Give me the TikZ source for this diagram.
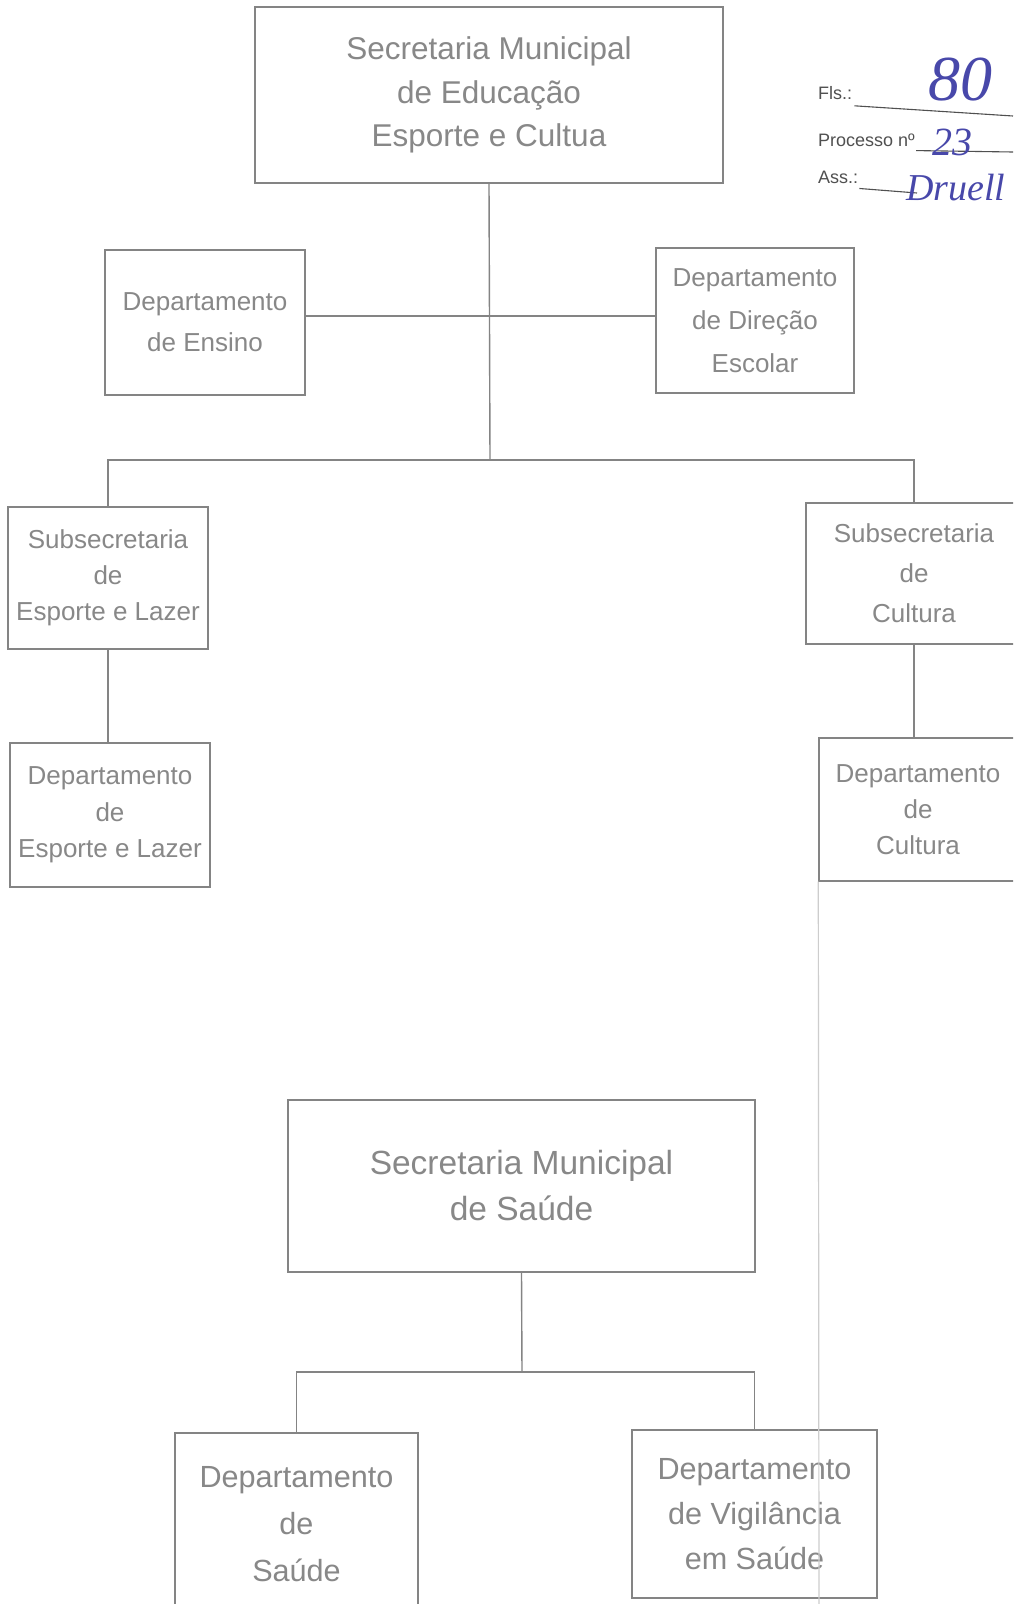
\documentclass[tikz,border=0pt]{standalone}
\usepackage{fontspec}
\usetikzlibrary{calc}
\setmainfont{Liberation Sans}
\newfontfamily\handfont{Liberation Serif}
\definecolor{lin}{RGB}{132,132,132}
\definecolor{txt}{RGB}{136,136,136}
\definecolor{ink}{RGB}{72,72,170}
\definecolor{stampc}{RGB}{80,80,80}
\definecolor{scanline}{RGB}{205,205,205}
\begin{document}
\begin{tikzpicture}[x=1pt,y=-1pt,
  orgbox/.style={draw=lin,line width=1.4pt,rectangle,inner sep=0pt,align=center,text=txt},
  conn/.style={draw=lin,line width=1.4pt},
  stamptext/.style={anchor=west,inner sep=0pt,text=stampc,font=\fontsize{18}{22}\selectfont},
  handtext/.style={anchor=west,inner sep=0pt,text=ink,font=\handfont\itshape},
  stampline/.style={draw=stampc,line width=1.1pt},
  scanmark/.style={draw=scanline,line width=1.2pt}]
\useasboundingbox (0,0) rectangle (1013,1604);
\clip (0,0) rectangle (1013,1604);
\fill[white] (0,0) rectangle (1013,1604);

% --- Educacao ---
\node[orgbox,minimum width=468,minimum height=176,font=\fontsize{31.5}{43.5}\selectfont] (sec) at (489,95) {Secretaria Municipal\\de Educação\\Esporte e Cultua};
\node[orgbox,minimum width=200,minimum height=145,font=\fontsize{26}{41}\selectfont] (ensino) at (205,322.5) {Departamento\\de Ensino};
\node[orgbox,minimum width=198,minimum height=145,font=\fontsize{26}{43}\selectfont] (direcao) at (755,320.5) {Departamento\\de Direção\\Escolar};
\node[orgbox,minimum width=200,minimum height=142,font=\fontsize{26}{36}\selectfont] (subesp) at (108,578) {Subsecretaria\\de\\Esporte e Lazer};
\node[orgbox,minimum width=216,minimum height=141,font=\fontsize{26}{40}\selectfont] (subcult) at (914,573.5) {Subsecretaria\\de\\Cultura};
\node[orgbox,minimum width=200,minimum height=144,font=\fontsize{26}{36.5}\selectfont] (depesp) at (110,815) {Departamento\\de\\Esporte e Lazer};
\node[orgbox,minimum width=198,minimum height=143,font=\fontsize{26}{36}\selectfont] (depcult) at (918,809.5) {Departamento\\de\\Cultura};

\coordinate (jmid) at (490,316);
\coordinate (jbus) at (490,460);
\draw[conn] (sec.south) -- (jbus);
\draw[conn] (ensino.east |- jmid) -- (direcao.west |- jmid);
\draw[conn] (subesp.north) -- (subesp.north |- jbus) -- (subcult.north |- jbus) -- (subcult.north);
\draw[conn] (subesp.south) -- (subesp.south |- depesp.north);
\draw[conn] (subcult.south) -- (subcult.south |- depcult.north);

% --- Saude ---
\node[orgbox,minimum width=467,minimum height=172,font=\fontsize{33.5}{46}\selectfont] (saude) at (521.5,1186) {Secretaria Municipal\\de Saúde};
\node[orgbox,minimum width=243,minimum height=182,font=\fontsize{30.6}{47}\selectfont] (depsaude) at (296.5,1524) {Departamento\\de\\Saúde};
\node[orgbox,minimum width=245,minimum height=168,font=\fontsize{30.6}{45}\selectfont] (vigil) at (754.5,1514) {Departamento\\de Vigilância\\em Saúde};

\coordinate (jsau) at (522,1372);
\draw[conn] (saude.south) -- (jsau);
\draw[conn] (depsaude.north) -- (depsaude.north |- jsau) -- (vigil.north |- jsau) -- (vigil.north);

% faint scan line
\coordinate (scanend) at (819,1604);
\draw[scanmark] (depcult.south west) -- (scanend);

% --- stamp ---
\node[stamptext] (fls) at (818,93) {Fls.:};
\coordinate (flsend) at (1013,116);
\draw[stampline] ($(fls.south east)+(2,6)$) -- (flsend);
\node[handtext,font=\handfont\itshape\fontsize{64}{64}\selectfont] (folha) at (928,80) {80};
\node[stamptext] (proc) at (818,140) {Processo nº};
\coordinate (procend) at (1013,152);
\draw[stampline] ($(proc.south east)+(1,4)$) -- (procend);
\node[handtext,font=\handfont\itshape\fontsize{40}{40}\selectfont] (procnum) at (932,142) {23};
\node[stamptext] (ass) at (818,177) {Ass.:};
\coordinate (assend) at (917,193);
\draw[stampline] ($(ass.south east)+(1,5)$) -- (assend);
\node[handtext,font=\handfont\itshape\fontsize{38}{38}\selectfont] (sig) at (906,188) {Druell};
\end{tikzpicture}
\end{document}
